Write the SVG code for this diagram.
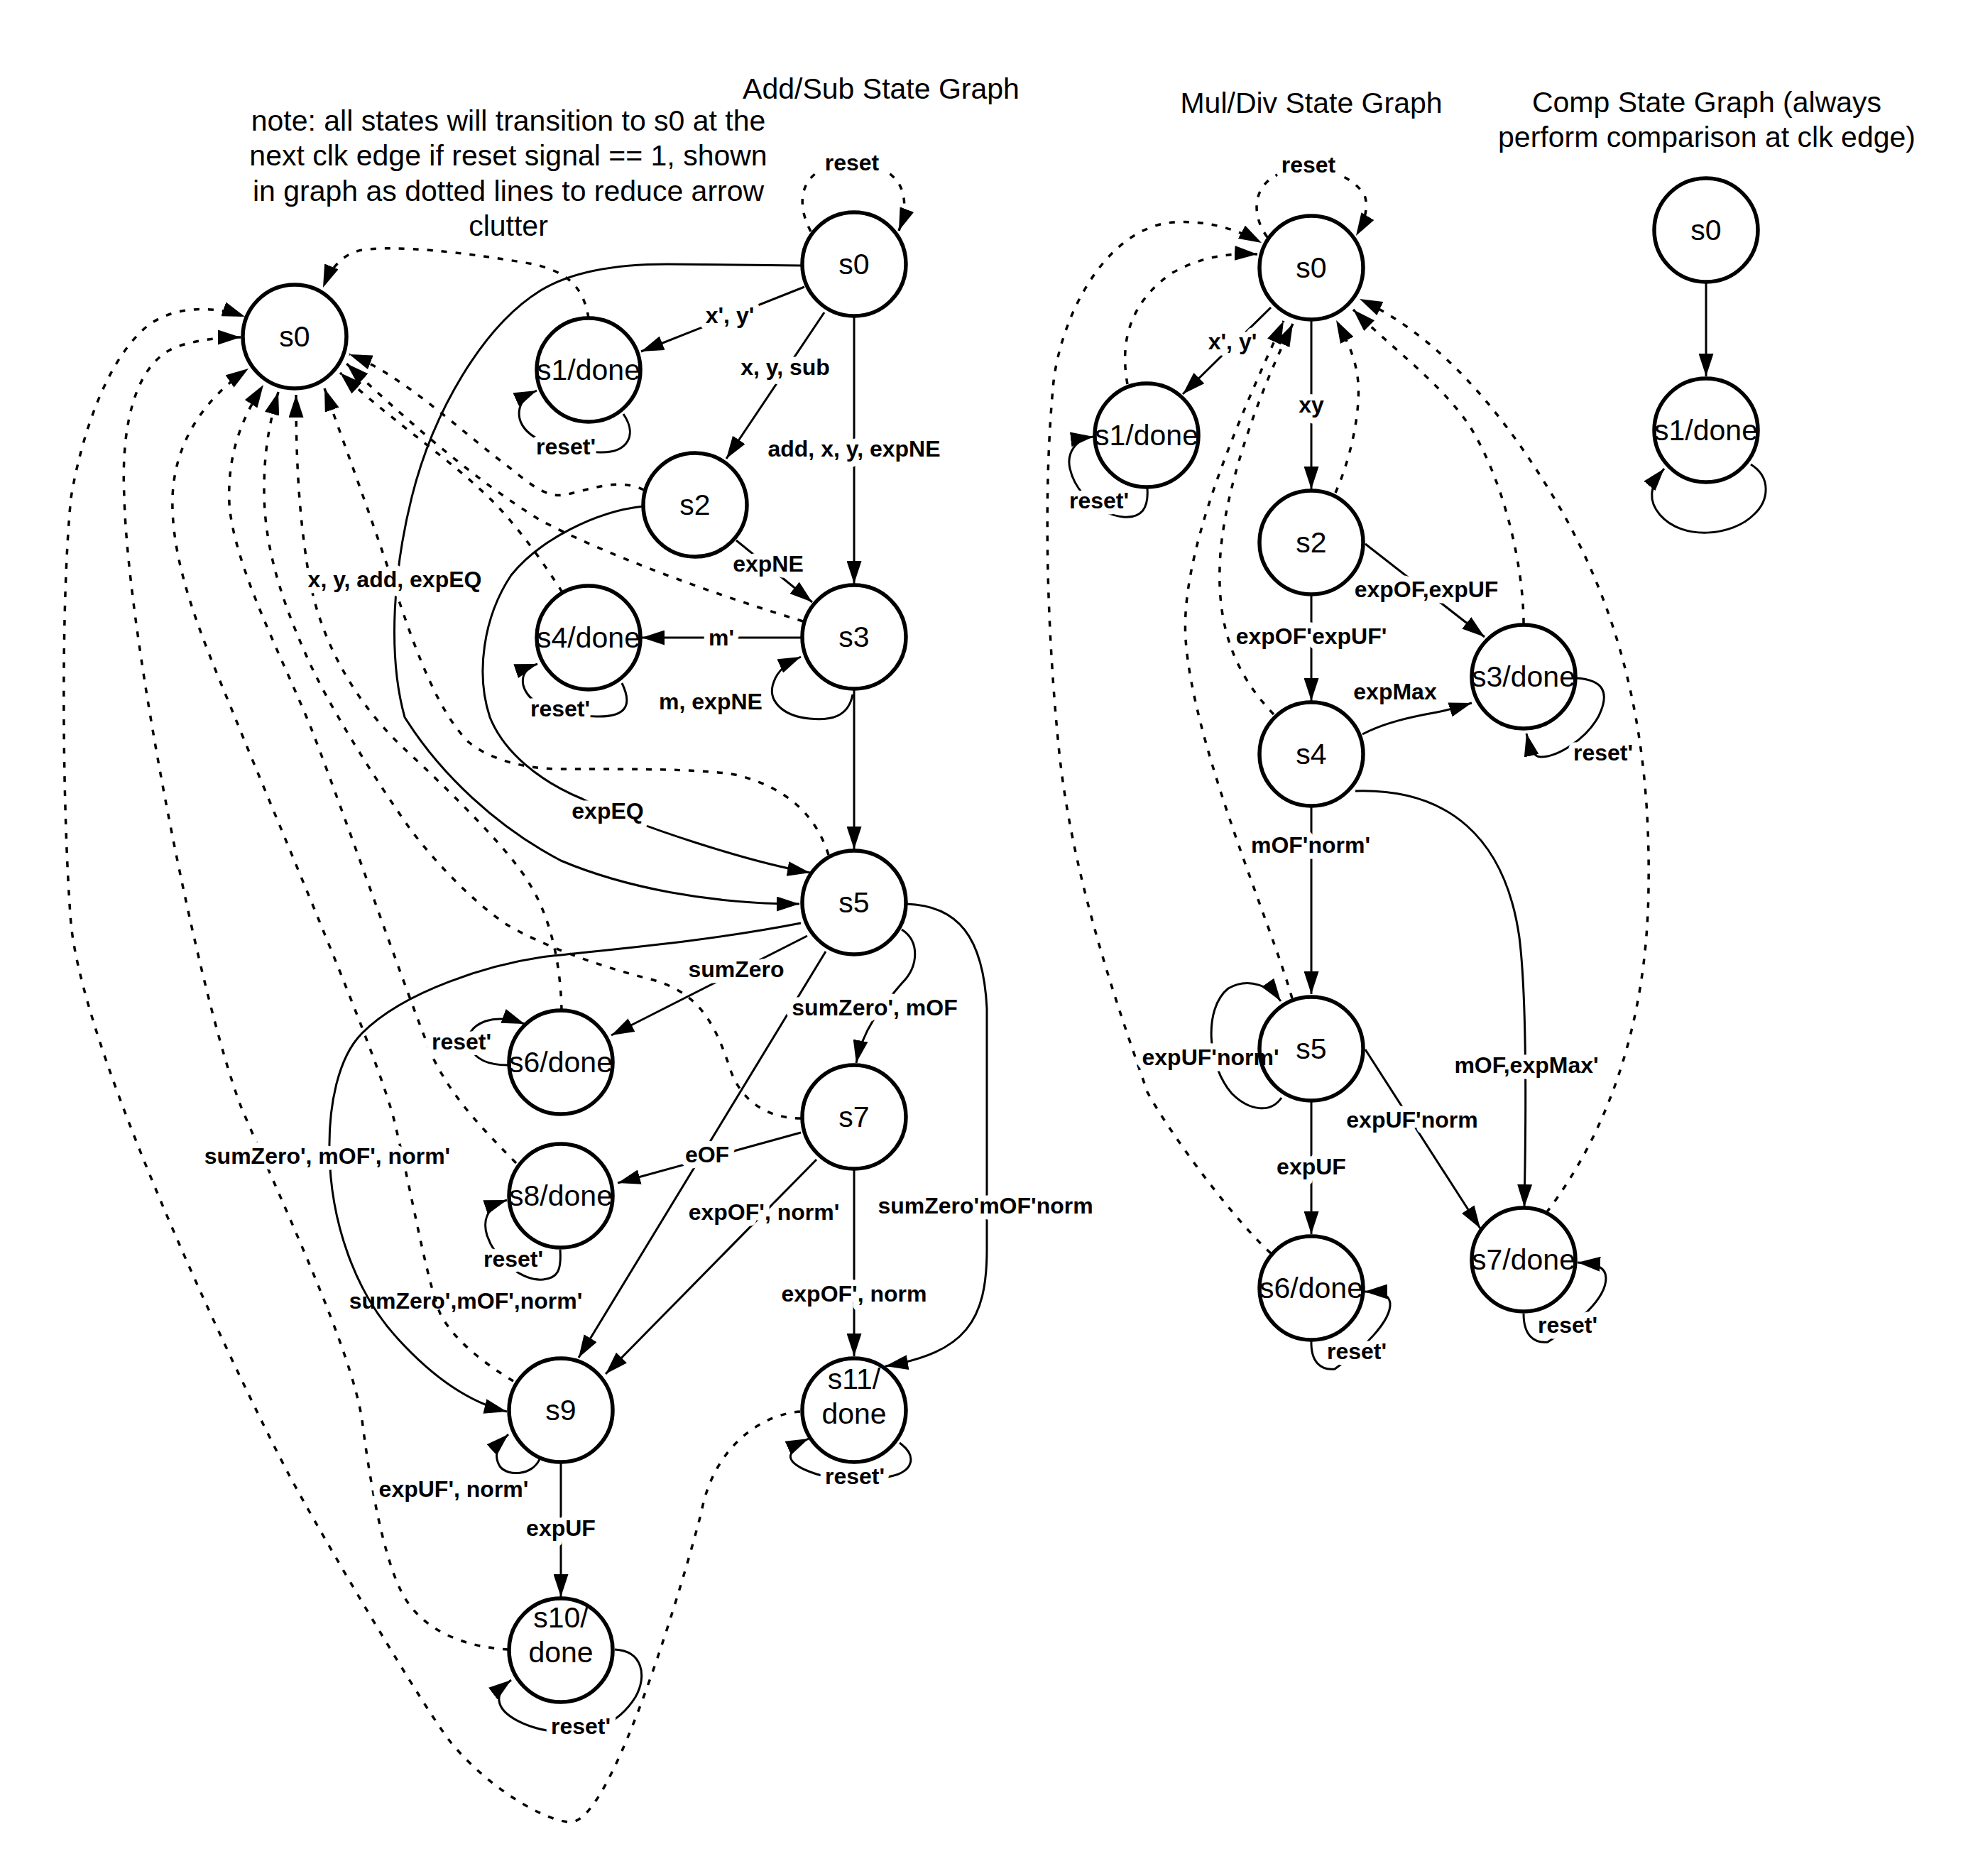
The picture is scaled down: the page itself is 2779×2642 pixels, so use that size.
<svg xmlns="http://www.w3.org/2000/svg" width="2779" height="2642" viewBox="0 0 2779 2642">
<defs>
<marker id="ah" viewBox="0 0 32 21" refX="32" refY="10.5" markerWidth="32" markerHeight="21" markerUnits="userSpaceOnUse" orient="auto"><path d="M0,0 L32,10.5 L0,21 z" fill="#000"/></marker>
<style>
.t{font-family:"Liberation Sans",Arial,sans-serif;font-size:41px;text-anchor:middle;fill:#000}
.node circle{fill:none;stroke:#000;stroke-width:5.5}
.e{fill:none;stroke:#000;stroke-width:3;marker-end:url(#ah)}
.d{fill:none;stroke:#000;stroke-width:3.5;stroke-dasharray:8 12;marker-end:url(#ah)}
.l{font-family:"Liberation Sans",Arial,sans-serif;font-size:32px;font-weight:bold;text-anchor:middle;dominant-baseline:central;fill:#000;stroke:#fff;stroke-width:17;stroke-linejoin:round;paint-order:stroke}
.ln{stroke:none}
</style>
</defs>
<rect width="2779" height="2642" fill="#fff"/>

<g id="titles">
<text class="t" x="1241" y="139">Add/Sub State Graph</text>
<text class="t" x="716" y="184">note: all states will transition to s0 at the</text>
<text class="t" x="716" y="233">next clk edge if reset signal == 1, shown</text>
<text class="t" x="716" y="283">in graph as dotted lines to reduce arrow</text>
<text class="t" x="716" y="332">clutter</text>
<text class="t" x="1847" y="159">Mul/Div State Graph</text>
<text class="t" x="2404" y="158">Comp State Graph (always</text>
<text class="t" x="2404" y="207">perform comparison at clk edge)</text>
</g>

<g id="connectors">
<!-- Add/Sub solid -->
<path class="d" d="M1142,326 C1115,275 1135,232 1195,230 C1255,228 1290,262 1266,325"/>
<path class="e" d="M1133,404 L903,495"/>
<path class="e" d="M1161,440 L1023,646"/>
<path class="e" d="M1203,446 L1203,822"/>
<path class="e" d="M1130,374 L940,372 C860,372 800,385 760,410 C680,460 610,580 580,700 C555,800 545,920 570,1010 C620,1090 700,1165 790,1212 C880,1250 1000,1273 1126,1273"/>
<path class="e" d="M1037,761 L1144,848"/>
<path class="e" d="M906,713 C840,720 760,760 720,810 C680,870 670,950 690,1010 C710,1060 760,1100 820,1125 C900,1165 1060,1215 1141,1229"/>
<path class="e" d="M1130,898 L904,898"/>
<path class="e" d="M1201,978 C1195,1010 1170,1015 1140,1012 C1100,1008 1080,985 1090,960 C1095,945 1110,933 1128,925"/>
<path class="e" d="M1203,970 L1203,1196"/>
<path class="e" d="M878,583 C898,612 885,638 845,637 C790,636 740,620 732,590 C728,572 738,558 756,550"/>
<path class="e" d="M876,962 C892,995 880,1010 840,1009 C790,1008 745,995 737,965 C734,950 742,940 757,935"/>
<path class="e" d="M1137,1318 L861,1458"/>
<path class="e" d="M1270,1309 C1295,1325 1295,1360 1270,1385 C1240,1420 1215,1450 1206,1497"/>
<path class="e" d="M1163,1340 L815,1912"/>
<path class="e" d="M1128,1300 C1000,1325 880,1335 770,1347 C690,1358 570,1395 510,1455 C475,1490 463,1560 464,1620 C465,1720 500,1820 560,1885 C610,1940 660,1975 714,1988"/>
<path class="e" d="M1128,1595 L870,1666"/>
<path class="e" d="M1150,1633 L853,1935"/>
<path class="e" d="M1203,1646 L1203,1910"/>
<path class="e" d="M1276,1273 C1350,1275 1385,1320 1390,1420 L1390,1760 C1390,1860 1360,1905 1247,1924"/>
<path class="e" d="M760,2055 C750,2078 715,2080 704,2065 C695,2050 700,2035 716,2020"/>
<path class="e" d="M790,2059 L790,2249"/>
<path class="e" d="M866,2323 C905,2325 912,2360 895,2390 C870,2430 830,2443 790,2440 C740,2435 705,2415 703,2395 C702,2385 708,2375 720,2366"/>
<path class="e" d="M1267,2032 C1292,2050 1287,2072 1255,2079 C1220,2086 1175,2084 1150,2076 C1125,2068 1110,2058 1114,2048 C1117,2040 1126,2032 1139,2026"/>
<path class="e" d="M715,1500 C690,1500 670,1493 662,1475 C655,1458 665,1445 684,1438 C700,1433 720,1435 739,1442"/>
<path class="e" d="M789,1760 C791,1790 785,1800 765,1802 C740,1804 700,1780 686,1740 C680,1720 684,1700 714,1690"/>
<!-- Add/Sub reset (dotted) -->
<path class="d" d="M1127,1988 C1070,1992 1005,2040 988,2129 C968,2209 864,2566 804,2566 C770,2566 690,2520 636,2455 C600,2411 453,2163 406,2075 C359,1987 120,1501 100,1301 C88,1150 85,850 100,701 C110,640 140,520 203,463 C240,430 300,430 345,446"/>
<path class="d" d="M716,2323 C660,2320 600,2300 570,2250 C540,2200 520,2080 510,2000 C495,1900 400,1700 340,1560 C280,1405 180,900 175,700 C170,600 190,510 250,488 C280,478 310,475 339,475"/>
<path class="d" d="M723,1945 C690,1925 640,1890 620,1850 C600,1800 580,1680 555,1577 C530,1480 400,1180 330,1008 C290,910 240,800 243,700 C246,620 290,560 350,519"/>
<path class="d" d="M727,1638 C680,1590 640,1550 610,1490 C580,1420 490,1160 440,1030 C400,930 330,800 323,710 C320,640 340,590 371,542"/>
<path class="d" d="M1128,1575 C1080,1575 1045,1550 1030,1510 C1010,1450 990,1400 920,1380 C840,1360 760,1330 712,1301 C660,1265 610,1210 578,1168 C530,1100 460,990 430,920 C390,830 372,760 372,690 C372,640 378,600 392,552"/>
<path class="d" d="M791,1423 C790,1370 780,1300 746,1245 C720,1200 640,1120 570,1055 C500,990 450,900 435,810 C420,720 417,640 417,556"/>
<path class="d" d="M1167,1204 C1150,1150 1110,1110 1040,1092 C1000,1083 900,1083 790,1083 C740,1083 690,1070 660,1045 C620,1005 590,930 560,840 C520,720 490,640 457,547"/>
<path class="d" d="M907,690 C870,672 830,690 795,697 C765,702 740,675 700,645 C630,590 560,525 492,499"/>
<path class="d" d="M1131,875 C1000,835 850,780 760,732 C660,670 560,580 488,512"/>
<path class="d" d="M792,834 C770,800 740,755 700,712 C640,650 560,600 479,525"/>
<path class="d" d="M829,448 C822,405 800,380 740,370 C650,355 560,345 510,352 C480,358 465,380 455,405"/>
<!-- Mul/Div solid -->
<path class="d" d="M1785,334 C1760,300 1765,255 1810,242 C1850,232 1900,240 1922,275 C1928,292 1922,312 1910,332"/>
<path class="e" d="M1790,433 L1666,555"/>
<path class="e" d="M1847,452 L1847,689"/>
<path class="e" d="M1616,688 C1618,716 1608,730 1582,728 C1550,725 1515,695 1507,660 C1502,638 1515,618 1540,615"/>
<path class="e" d="M1923,766 L2091,897"/>
<path class="e" d="M1847,838 L1847,987"/>
<path class="e" d="M1919,1034 C1950,1018 1985,1010 2024,1003 C2045,999 2060,994 2073,990"/>
<path class="e" d="M2220,955 C2258,957 2268,975 2252,1008 C2235,1040 2195,1066 2170,1066 C2160,1066 2155,1055 2150,1033"/>
<path class="e" d="M1847,1135 L1847,1400"/>
<path class="e" d="M1909,1114 C2040,1110 2120,1180 2140,1320 C2150,1400 2150,1550 2147,1700"/>
<path class="e" d="M1805,1546 C1790,1568 1760,1565 1735,1540 C1700,1500 1695,1420 1730,1392 C1760,1375 1790,1390 1804,1410"/>
<path class="e" d="M1847,1551 L1847,1738"/>
<path class="e" d="M1923,1478 L2085,1730"/>
<path class="e" d="M1847,1888 C1846,1918 1860,1930 1880,1928 C1920,1900 1960,1860 1958,1835 C1956,1822 1945,1819 1922,1819"/>
<path class="e" d="M2146,1850 C2146,1880 2160,1892 2180,1890 C2220,1865 2262,1830 2262,1800 C2262,1785 2250,1780 2222,1778"/>
<!-- Mul/Div reset (dotted) -->
<path class="d" d="M1588,541 C1575,470 1600,420 1650,385 C1690,362 1730,356 1771,358"/>
<path class="d" d="M1790,1765 C1740,1720 1650,1600 1616,1538 C1590,1460 1510,1250 1491,1050 C1476,900 1468,700 1484,537 C1496,440 1560,320 1653,313 C1700,310 1740,322 1777,342"/>
<path class="d" d="M1881,694 C1905,640 1918,570 1912,530 C1908,500 1895,475 1882,451"/>
<path class="d" d="M1794,1006 C1750,960 1715,900 1718,800 C1720,700 1770,560 1821,456"/>
<path class="d" d="M1820,1406 C1790,1300 1680,1050 1670,900 C1662,780 1740,600 1808,452"/>
<path class="d" d="M2146,878 C2146,800 2120,680 2070,600 C2030,540 1960,490 1906,436"/>
<path class="d" d="M2178,1708 C2260,1600 2320,1450 2322,1250 C2325,1050 2290,880 2200,720 C2130,600 2040,480 1915,421"/>
<!-- Comp -->
<path class="e" d="M2403,398 L2403,530"/>
<path class="e" d="M2466,654 C2495,672 2492,705 2470,725 C2440,755 2370,762 2338,725 C2322,706 2322,686 2344,660"/>

<!-- edge labels -->
<text class="l" x="1200" y="229">reset</text>
<text class="l" x="1028" y="444">x', y'</text>
<text class="l" x="1106" y="517">x, y, sub</text>
<text class="l" x="1203" y="632">add, x, y, expNE</text>
<text class="l" x="797" y="629">reset'</text>
<text class="l" x="556" y="816">x, y, add, expEQ</text>
<text class="l" x="1082" y="794">expNE</text>
<text class="l" x="1016" y="898">m'</text>
<text class="l" x="789" y="998">reset'</text>
<text class="l" x="1001" y="988">m, expNE</text>
<text class="l" x="856" y="1142">expEQ</text>
<text class="l" x="1037" y="1365">sumZero</text>
<text class="l" x="1232" y="1419">sumZero', mOF</text>
<text class="l" x="650" y="1467">reset'</text>
<text class="l" x="461" y="1628">sumZero', mOF', norm'</text>
<text class="l" x="996" y="1626">eOF</text>
<text class="l" x="1076" y="1707">expOF', norm'</text>
<text class="l" x="1388" y="1698">sumZero'mOF'norm</text>
<text class="l" x="723" y="1773">reset'</text>
<text class="l ln" x="656" y="1832">sumZero',mOF',norm'</text>
<text class="l" x="1203" y="1822">expOF', norm</text>
<text class="l" x="639" y="2097">expUF', norm'</text>
<text class="l" x="790" y="2152">expUF</text>
<text class="l" x="1204" y="2079">reset'</text>
<text class="l" x="818" y="2431">reset'</text>

<text class="l" x="1843" y="232">reset</text>
<text class="l" x="1736" y="481">x', y'</text>
<text class="l" x="1847" y="570">xy</text>
<text class="l" x="1548" y="705">reset'</text>
<text class="l" x="2009" y="830">expOF,expUF</text>
<text class="l" x="1847" y="896">expOF'expUF'</text>
<text class="l" x="1965" y="974">expMax</text>
<text class="l" x="2258" y="1060">reset'</text>
<text class="l" x="1846" y="1190">mOF'norm'</text>
<text class="l" x="1705" y="1489">expUF'norm'</text>
<text class="l" x="2150" y="1500">mOF,expMax'</text>
<text class="l" x="1989" y="1577">expUF'norm</text>
<text class="l" x="1847" y="1643">expUF</text>
<text class="l" x="1911" y="1903">reset'</text>
<text class="l" x="2208" y="1866">reset'</text>
</g>

<!-- Add/Sub nodes -->
<g id="as-s0-left" class="node"><circle cx="415" cy="474" r="73"/><text class="t" x="415" y="488">s0</text></g>
<g id="as-s0" class="node"><circle cx="1203" cy="372" r="73"/><text class="t" x="1203" y="386">s0</text></g>
<g id="as-s1" class="node"><circle cx="829" cy="521" r="73"/><text class="t" x="829" y="535">s1/done</text></g>
<g id="as-s2" class="node"><circle cx="979" cy="711" r="73"/><text class="t" x="979" y="725">s2</text></g>
<g id="as-s3" class="node"><circle cx="1203" cy="897" r="73"/><text class="t" x="1203" y="911">s3</text></g>
<g id="as-s4" class="node"><circle cx="829" cy="898" r="73"/><text class="t" x="829" y="912">s4/done</text></g>
<g id="as-s5" class="node"><circle cx="1203" cy="1271" r="73"/><text class="t" x="1203" y="1285">s5</text></g>
<g id="as-s6" class="node"><circle cx="790" cy="1496" r="73"/><text class="t" x="790" y="1510">s6/done</text></g>
<g id="as-s7" class="node"><circle cx="1203" cy="1573" r="73"/><text class="t" x="1203" y="1587">s7</text></g>
<g id="as-s8" class="node"><circle cx="790" cy="1684" r="73"/><text class="t" x="790" y="1698">s8/done</text></g>
<g id="as-s9" class="node"><circle cx="790" cy="1986" r="73"/><text class="t" x="790" y="2000">s9</text></g>
<g id="as-s11" class="node"><circle cx="1203" cy="1986" r="73"/><text class="t" x="1203" y="1956">s11/</text><text class="t" x="1203" y="2005">done</text></g>
<g id="as-s10" class="node"><circle cx="790" cy="2324" r="73"/><text class="t" x="790" y="2292">s10/</text><text class="t" x="790" y="2341">done</text></g>

<!-- Mul/Div nodes -->
<g id="md-s0" class="node"><circle cx="1847" cy="377" r="73"/><text class="t" x="1847" y="391">s0</text></g>
<g id="md-s1" class="node"><circle cx="1615" cy="613" r="73"/><text class="t" x="1615" y="627">s1/done</text></g>
<g id="md-s2" class="node"><circle cx="1847" cy="764" r="73"/><text class="t" x="1847" y="778">s2</text></g>
<g id="md-s3" class="node"><circle cx="2146" cy="953" r="73"/><text class="t" x="2146" y="967">s3/done</text></g>
<g id="md-s4" class="node"><circle cx="1847" cy="1062" r="73"/><text class="t" x="1847" y="1076">s4</text></g>
<g id="md-s5" class="node"><circle cx="1847" cy="1477" r="73"/><text class="t" x="1847" y="1491">s5</text></g>
<g id="md-s6" class="node"><circle cx="1847" cy="1814" r="73"/><text class="t" x="1847" y="1828">s6/done</text></g>
<g id="md-s7" class="node"><circle cx="2146" cy="1774" r="73"/><text class="t" x="2146" y="1788">s7/done</text></g>

<!-- Comp nodes -->
<g id="cmp-s0" class="node"><circle cx="2403" cy="324" r="73"/><text class="t" x="2403" y="338">s0</text></g>
<g id="cmp-s1" class="node"><circle cx="2403" cy="606" r="73"/><text class="t" x="2403" y="620">s1/done</text></g>
</svg>
